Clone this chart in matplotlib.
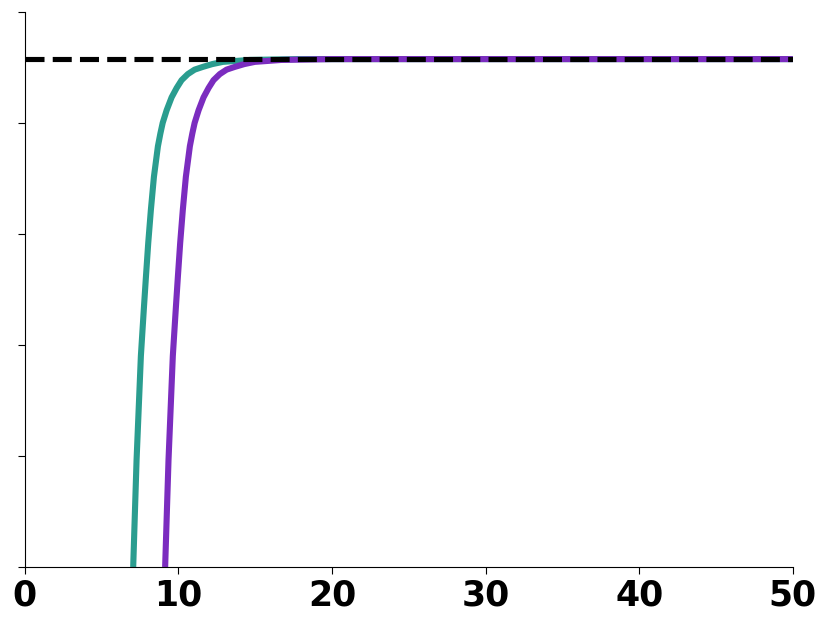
import matplotlib.pyplot as plt

# values
x_limits = (0, 50)
y_limits = (0, 1.0)
x_ticks = [0, 10, 20, 30, 40, 50]
y_ticks = [0, 0.2, 0.4, 0.6, 0.8, 1.0]
plateau = 0.915

teal_x = [7.05, 7.16, 7.27, 7.55, 7.75, 7.88, 8.03, 8.20, 8.40, 8.66,
          8.82, 8.97, 9.23, 9.55, 9.88, 10.20, 10.61, 11.05, 11.59, 12.20,
          12.89, 14.65, 17.9, 50.0]
teal_y = [0.0, 0.097, 0.193, 0.380, 0.468, 0.523, 0.584, 0.643, 0.703, 0.758,
          0.781, 0.800, 0.823, 0.846, 0.863, 0.877, 0.888, 0.896, 0.901, 0.906,
          0.910, 0.9135, 0.915, 0.915]

purple_x = [9.13, 9.24, 9.35, 9.63, 9.83, 9.96, 10.11, 10.28, 10.48, 10.74,
            10.90, 11.05, 11.31, 11.63, 11.96, 12.28, 12.69, 13.13, 13.67, 14.28,
            14.97, 16.7, 20.0, 50.0]
purple_y = [0.0, 0.097, 0.193, 0.380, 0.468, 0.523, 0.584, 0.643, 0.703, 0.758,
            0.781, 0.800, 0.823, 0.846, 0.863, 0.877, 0.888, 0.896, 0.901, 0.906,
            0.910, 0.9135, 0.915, 0.915]

teal_color = "#2a9d8f"
purple_color = "#7b2cbf"

fig = plt.figure(figsize=(8.31, 6.27), dpi=100)
ax = fig.add_axes([0.030, 0.0957, 0.924, 0.8853])

ax.plot(teal_x, teal_y, color=teal_color, lw=4.4, solid_capstyle='butt',
        solid_joinstyle='round')
ax.plot(purple_x, purple_y, color=purple_color, lw=4.4, solid_capstyle='butt',
        solid_joinstyle='round')
ax.axhline(plateau, color='black', lw=3.7, ls='--')

ax.set_xlim(*x_limits)
ax.set_ylim(*y_limits)
ax.set_xticks(x_ticks)
ax.set_yticks(y_ticks)
ax.set_yticklabels([])
ax.tick_params(axis='x', labelsize=25, length=5)
ax.tick_params(axis='y', length=5)
for lab in ax.get_xticklabels():
    lab.set_fontweight('bold')

ax.spines['top'].set_visible(False)
ax.spines['right'].set_visible(False)

fig.savefig("out.png", dpi=100)
